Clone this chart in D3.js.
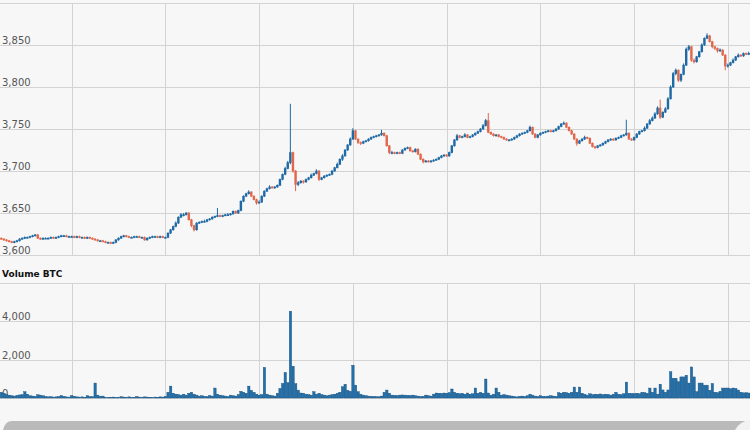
<!DOCTYPE html>
<html><head><meta charset="utf-8">
<script src="https://cdn.jsdelivr.net/npm/d3@7"></script>
<style>
html,body{margin:0;padding:0;background:#f7f7f7;}
svg{display:block;}
text{font-family:"DejaVu Sans",Verdana,sans-serif;}
</style></head>
<body><svg id="c" width="750" height="430"></svg>
<script>
const opens = [
3620,3619,3618,3617,3616,3615,3616,3617,3619,3620,
3621,3621,3622,3623,3624,3620,3619,3620,3620,3620,
3621,3620,3621,3622,3623,3623,3622,3622,3622,3621,
3622,3621,3621,3620,3621,3620,3619,3618,3617,3617,
3616,3615,3615,3614,3615,3618,3620,3622,3623,3622,
3621,3621,3622,3622,3621,3621,3618,3620,3621,3622,
3622,3621,3622,3621,3621,3626,3630,3634,3638,3645,
3648,3648,3650,3642,3635,3630,3638,3639,3640,3640,
3642,3643,3645,3646,3647,3646,3647,3648,3648,3649,
3652,3650,3653,3664,3670,3673,3675,3670,3666,3662,
3663,3670,3676,3679,3681,3680,3681,3683,3690,3696,
3703,3710,3722,3700,3684,3686,3688,3687,3690,3692,
3695,3697,3700,3690,3692,3694,3695,3696,3700,3704,
3708,3714,3718,3725,3731,3738,3748,3738,3734,3733,
3735,3736,3738,3740,3741,3742,3743,3745,3742,3730,
3722,3722,3721,3722,3721,3725,3727,3728,3724,3723,
3726,3720,3714,3711,3712,3711,3712,3713,3714,3716,
3718,3719,3718,3722,3730,3737,3742,3740,3741,3743,
3740,3741,3743,3745,3747,3750,3754,3760,3746,3744,
3742,3743,3741,3740,3738,3737,3737,3738,3740,3742,
3744,3745,3746,3748,3752,3744,3740,3743,3745,3746,
3747,3748,3747,3748,3750,3753,3756,3757,3752,3748,
3744,3738,3733,3736,3738,3740,3739,3733,3729,3728,
3730,3731,3733,3735,3737,3738,3737,3739,3740,3742,
3743,3745,3738,3737,3740,3744,3747,3748,3751,3756,
3760,3763,3768,3775,3764,3770,3774,3786,3800,3816,
3820,3808,3815,3826,3845,3848,3832,3830,3836,3842,
3850,3858,3861,3854,3848,3846,3843,3844,3838,3825,
3826,3829,3832,3836,3838,3837,3840,3839];
const closes = [
3619,3618,3617,3616,3615,3616,3617,3619,3620,3621,
3621,3622,3623,3624,3620,3619,3620,3620,3620,3621,
3620,3621,3622,3623,3623,3622,3622,3622,3621,3622,
3621,3621,3620,3621,3620,3619,3618,3617,3617,3616,
3615,3615,3614,3615,3618,3620,3622,3623,3622,3621,
3621,3622,3622,3621,3621,3618,3620,3621,3622,3622,
3621,3622,3621,3621,3626,3630,3634,3638,3645,3648,
3648,3650,3642,3635,3630,3638,3639,3640,3640,3642,
3643,3645,3646,3647,3646,3647,3648,3648,3649,3652,
3650,3653,3664,3670,3673,3675,3670,3666,3662,3663,
3670,3676,3679,3681,3680,3681,3683,3690,3696,3703,
3710,3722,3700,3684,3686,3688,3687,3690,3692,3695,
3697,3700,3690,3692,3694,3695,3696,3700,3704,3708,
3714,3718,3725,3731,3738,3748,3738,3734,3733,3735,
3736,3738,3740,3741,3742,3743,3745,3742,3730,3722,
3722,3721,3722,3721,3725,3727,3728,3724,3723,3726,
3720,3714,3711,3712,3711,3712,3713,3714,3716,3718,
3719,3718,3722,3730,3737,3742,3740,3741,3743,3740,
3741,3743,3745,3747,3750,3754,3760,3746,3744,3742,
3743,3741,3740,3738,3737,3737,3738,3740,3742,3744,
3745,3746,3748,3752,3744,3740,3743,3745,3746,3747,
3748,3747,3748,3750,3753,3756,3757,3752,3748,3744,
3738,3733,3736,3738,3740,3739,3733,3729,3728,3730,
3731,3733,3735,3737,3738,3737,3739,3740,3742,3743,
3745,3738,3737,3740,3744,3747,3748,3751,3756,3760,
3763,3768,3775,3764,3770,3774,3786,3800,3816,3820,
3808,3815,3826,3845,3848,3832,3830,3836,3842,3850,
3858,3861,3854,3848,3846,3843,3844,3838,3825,3826,
3829,3832,3836,3838,3837,3840,3839,3840];
const highs = [
3621,3620,3619,3618,3617,3617,3618,3620,3621,3622,
3622,3623,3624,3625,3625,3621,3621,3621,3621,3622,
3622,3622,3623,3624,3624,3624,3623,3623,3623,3623,
3623,3622,3622,3622,3622,3621,3620,3619,3618,3618,
3617,3616,3616,3616,3619,3621,3623,3624,3624,3623,
3622,3623,3623,3623,3622,3622,3621,3622,3623,3623,
3623,3623,3623,3622,3627,3631,3635,3640,3646,3650,
3650,3651,3651,3643,3636,3639,3640,3641,3642,3643,
3644,3646,3647,3656,3648,3648,3649,3650,3650,3653,
3653,3654,3665,3671,3674,3677,3676,3671,3667,3665,
3671,3677,3680,3683,3682,3682,3684,3691,3697,3705,
3712,3780,3723,3701,3688,3689,3689,3691,3693,3697,
3698,3702,3701,3693,3695,3696,3697,3701,3705,3710,
3715,3720,3726,3732,3740,3751,3749,3739,3735,3736,
3737,3739,3741,3742,3743,3744,3749,3746,3743,3731,
3724,3723,3723,3723,3726,3728,3729,3729,3725,3727,
3727,3721,3715,3713,3713,3713,3714,3715,3717,3719,
3720,3720,3723,3731,3738,3744,3743,3742,3745,3744,
3742,3744,3746,3748,3751,3756,3762,3769,3747,3745,
3744,3744,3742,3741,3739,3738,3739,3741,3743,3745,
3746,3747,3749,3754,3753,3745,3744,3746,3747,3748,
3749,3749,3749,3751,3754,3757,3759,3758,3753,3749,
3745,3739,3737,3739,3742,3741,3740,3734,3730,3731,
3732,3734,3736,3738,3739,3739,3740,3741,3743,3744,
3761,3746,3739,3741,3745,3748,3749,3753,3757,3762,
3765,3770,3777,3785,3771,3776,3788,3802,3818,3822,
3821,3816,3828,3847,3850,3849,3834,3837,3843,3852,
3859,3864,3862,3855,3849,3847,3846,3845,3839,3828,
3830,3834,3837,3840,3839,3841,3841,3842];
const lows = [
3618,3617,3616,3615,3614,3614,3615,3616,3618,3619,
3620,3620,3621,3622,3619,3618,3618,3619,3619,3619,
3619,3619,3620,3621,3622,3621,3621,3621,3620,3620,
3620,3620,3619,3619,3619,3618,3617,3616,3616,3615,
3614,3614,3613,3613,3614,3617,3619,3621,3621,3620,
3620,3620,3621,3620,3620,3617,3617,3619,3620,3621,
3620,3620,3620,3620,3620,3625,3629,3633,3637,3644,
3646,3647,3641,3633,3628,3629,3637,3638,3639,3639,
3641,3642,3644,3645,3645,3645,3646,3647,3647,3648,
3649,3649,3652,3663,3669,3672,3669,3665,3660,3661,
3662,3669,3675,3678,3679,3679,3680,3682,3689,3695,
3702,3708,3698,3676,3682,3685,3685,3686,3689,3691,
3694,3696,3688,3689,3691,3693,3694,3695,3699,3703,
3707,3712,3717,3724,3730,3737,3737,3732,3731,3732,
3734,3735,3737,3739,3740,3741,3742,3741,3729,3720,
3720,3720,3720,3720,3720,3724,3726,3723,3722,3722,
3719,3713,3709,3710,3710,3710,3711,3712,3713,3715,
3717,3717,3717,3721,3729,3736,3739,3739,3740,3739,
3739,3740,3742,3744,3746,3749,3753,3745,3743,3741,
3741,3740,3739,3737,3736,3736,3736,3737,3739,3741,
3743,3744,3745,3747,3743,3739,3739,3742,3744,3745,
3746,3746,3746,3747,3749,3752,3755,3751,3747,3743,
3737,3730,3732,3735,3737,3738,3732,3728,3726,3727,
3729,3730,3732,3734,3736,3736,3736,3738,3739,3741,
3742,3737,3736,3736,3739,3743,3746,3747,3750,3755,
3759,3762,3767,3762,3763,3769,3773,3785,3799,3814,
3806,3806,3814,3825,3843,3830,3828,3829,3835,3841,
3849,3857,3853,3846,3844,3841,3842,3837,3820,3823,
3825,3828,3831,3835,3836,3836,3838,3838];
const volumes = [
300,250,180,150,120,100,140,160,180,330,
200,120,100,90,170,150,120,80,60,70,
50,60,80,130,90,60,50,130,90,60,
50,60,40,120,80,70,780,150,90,100,
40,30,40,50,30,40,70,50,40,60,
30,40,80,50,40,60,50,40,30,50,
40,60,50,90,300,620,250,200,180,150,
200,150,250,300,200,150,100,120,90,80,
130,100,520,200,150,120,100,80,150,120,
100,180,350,300,250,620,400,300,200,150,
180,1600,200,150,120,100,250,500,760,1330,
800,4530,1660,750,410,260,250,200,180,150,
330,200,250,180,150,120,150,180,200,250,
300,590,720,400,350,1710,670,330,200,150,
120,100,90,80,70,70,100,300,415,250,
150,140,130,150,160,150,140,130,150,120,
100,80,90,150,120,100,200,260,250,240,
260,250,280,470,300,250,220,240,200,260,
200,220,520,250,300,250,990,260,150,200,
520,300,150,180,150,120,100,80,60,90,
100,80,120,200,150,100,80,120,90,80,
100,120,100,90,280,250,300,280,250,300,
570,300,570,250,200,150,220,180,200,190,
210,180,200,190,150,200,300,200,180,220,
830,250,240,230,250,220,300,280,250,520,
300,520,200,720,420,300,420,1370,1030,1030,
850,1100,1100,1190,780,1620,1100,330,780,780,
670,670,400,760,300,280,350,520,520,520,
480,520,500,415,300,270,280,260];
const gridCandles = [27, 63, 99, 135, 171, 207, 243, 279];
const priceTicks = [3600, 3650, 3700, 3750, 3800, 3850, 3900];
const volumeTicks = [0, 2000, 4000, 6000];
const volumeTitle = "Volume BTC";

const W = 750;
const svg = d3.select("#c");
const n = closes.length;
const x = d3.scaleLinear().domain([-0.5, n - 0.5]).range([0, W]);
const step = x(1) - x(0);
const yP = d3.scaleLinear().domain([3600, 3900]).range([255, 3]);
const yV = d3.scaleLinear().domain([0, 6000]).range([398, 283]);
const UP = "#1f6aa5", DOWN = "#e0674c", GRID = "#d3d3d3";
const fmt = d3.format(",");

function panel(y, ticks, top, bottom) {
  const g = svg.append("g");
  g.selectAll("line.v").data(gridCandles).join("line")
    .attr("x1", d => Math.round(x(d)) + 0.5).attr("x2", d => Math.round(x(d)) + 0.5)
    .attr("y1", top).attr("y2", bottom).attr("stroke", GRID).attr("stroke-width", 1);
  const ax = d3.axisRight(y).tickValues(ticks).tickSize(W).tickFormat(fmt);
  const a = g.append("g").call(ax);
  a.select(".domain").remove();
  a.selectAll(".tick line").attr("stroke", GRID);
  a.selectAll(".tick text").attr("x", 2).attr("dy", -2).attr("text-anchor", "start")
    .attr("fill", "#555").style("font-size", "10px")
    .style("display", d => d === ticks[ticks.length - 1] ? "none" : null);
  a.selectAll(".tick").attr("transform", d => `translate(0,${Math.round(y(d)) + 0.5})`);
  return g;
}
panel(yP, priceTicks, 3, 255);
panel(yV, volumeTicks, 283, 398);

// volume bars
svg.append("g").selectAll("rect").data(volumes).join("rect")
  .attr("x", (d, i) => x(i) - step / 2 + 0.2).attr("width", step - 0.2)
  .attr("y", d => yV(d)).attr("height", d => yV(0) - yV(d))
  .attr("fill", "#236fa9").attr("stroke", "#18507e").attr("stroke-width", 0.4);

// candles
const cg = svg.append("g");
const idx = d3.range(n);
cg.selectAll("line").data(idx).join("line")
  .attr("x1", i => x(i)).attr("x2", i => x(i))
  .attr("y1", i => yP(highs[i])).attr("y2", i => yP(lows[i]))
  .attr("stroke", i => closes[i] >= opens[i] ? UP : DOWN).attr("stroke-width", 1);
cg.selectAll("rect").data(idx).join("rect")
  .attr("x", i => x(i) - 1.2).attr("width", 2.4)
  .attr("y", i => yP(Math.max(opens[i], closes[i])) - 0.3)
  .attr("height", i => Math.max(1.6, Math.abs(yP(opens[i]) - yP(closes[i])) + 0.6))
  .attr("fill", i => closes[i] >= opens[i] ? UP : DOWN);

// volume title
svg.append("text").attr("x", 2).attr("y", 277).text(volumeTitle)
  .style("font-size", "9px").style("font-weight", "bold").attr("fill", "#111");

// navigator strip at the bottom
svg.append("path")
  .attr("d", "M3,430 Q5,421 12,421 L750,421 L750,430 Z")
  .attr("fill", "#bababa");
svg.append("path")
  .attr("d", "M735,430 Q740,421 750,420 L750,430 Z")
  .attr("fill", "#f2f2f2");
</script></body></html>
